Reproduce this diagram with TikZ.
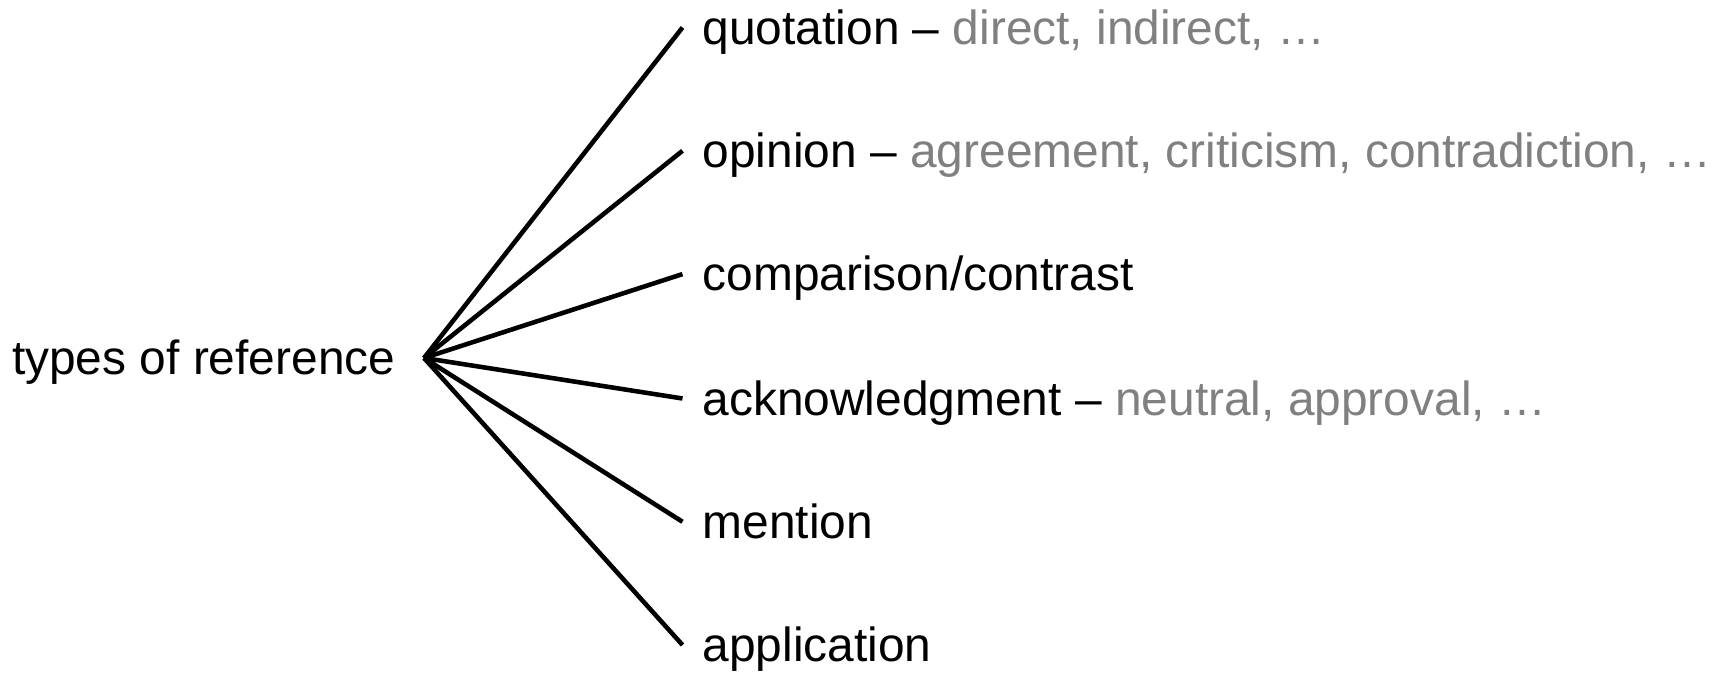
\documentclass[tikz,border=0pt]{standalone}
\usepackage{fontspec}
\setmainfont{Liberation Sans}
\definecolor{ink}{HTML}{000000}
\definecolor{subgrey}{HTML}{808080}
\newcommand{\subtypes}[1]{\textcolor{subgrey}{#1}}

\begin{document}
\begin{tikzpicture}[font=\fontsize{13.62}{16}\selectfont,
  kind/.style={anchor=west,inner xsep=0.195cm,inner ysep=0pt,text height=0.45cm,text depth=0.114cm},
  branch/.style={ink,line width=1.3pt}]
\useasboundingbox (0,0) rectangle (17.26,6.73);
\node[kind,anchor=east,inner xsep=0.28cm] (types) at (4.24,3.15){types of reference};
\node[kind] (quot) at (6.825,6.455){quotation -- \subtypes{direct, indirect, …}};
\node[kind] (opin) at (6.825,5.222){opinion -- \subtypes{agreement, criticism, contradiction, …}};
\node[kind] (comp) at (6.825,3.989){comparison/contrast};
\node[kind] (ackn) at (6.825,2.745){acknowledgment -- \subtypes{neutral, approval, …}};
\node[kind] (ment) at (6.825,1.512){mention};
\node[kind] (appl) at (6.825,0.28){application};
\foreach \k in {quot,opin,comp,ackn,ment,appl}{\draw[branch] (types.east)--(\k.west);}
\end{tikzpicture}
\end{document}
